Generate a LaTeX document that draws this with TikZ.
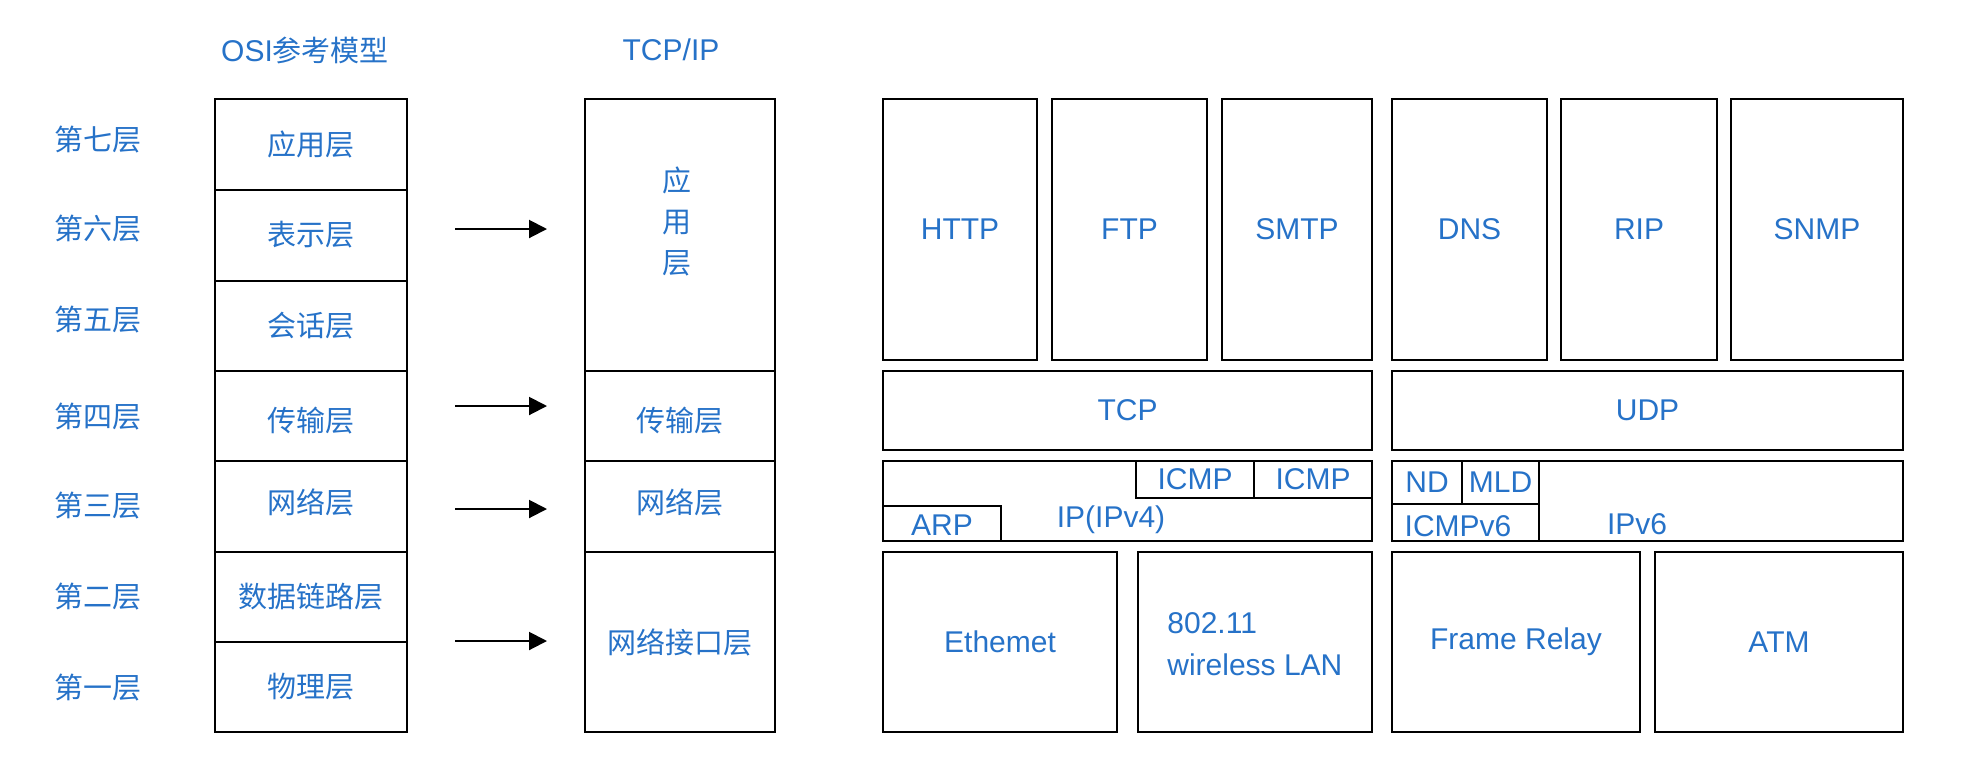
\documentclass[tikz,border=0pt]{standalone}
\usepackage{fontspec}
\setmainfont{Liberation Sans}
\newfontfamily\cjk{Noto Sans CJK SC}
\newfontfamily\latn{Liberation Sans}
\usetikzlibrary{arrows.meta}
\definecolor{lblue}{RGB}{38,114,200}
\tikzset{
  box/.style={draw=black,line width=1pt,inner sep=0pt,outer sep=0pt,text=lblue,font=\fontsize{15}{18}\selectfont},
  lbl/.style={inner sep=0pt,text=lblue,font=\fontsize{15}{18}\selectfont},
  zh/.style={inner sep=0pt,text=lblue,font=\cjk\fontsize{14.5}{18}\selectfont},
  arr/.style={line width=1pt,-{Triangle[length=9pt,width=9pt]}}
}
\newcommand\bx[6]{\node[box,minimum width={(#4-#2)*0.5pt},minimum height={(#5-#3)*0.5pt}] (#1) at ({(#2+#4)/2},{(#3+#5)/2}) {#6};}
\begin{document}
\begin{tikzpicture}[x=0.5pt,y=-0.5pt]
\useasboundingbox (0,0) rectangle (1980,762);
% titles
\node[zh] (t1) at (305,50) {{\latn\fontsize{15}{18}\selectfont OSI}参考模型};
\node[lbl] (t2) at (671,50) {TCP/IP};
% left labels
\node[zh] (l7) at (98,139.5) {第七层};
\node[zh] (l6) at (98,229) {第六层};
\node[zh] (l5) at (98,319.5) {第五层};
\node[zh] (l4) at (98,417) {第四层};
\node[zh] (l3) at (98,506) {第三层};
\node[zh] (l2) at (98,597) {第二层};
\node[zh] (l1) at (98,688) {第一层};
% OSI column
\begin{scope}[box/.append style={font=\cjk\fontsize{14.5}{18}\selectfont}]
\bx{o7}{215}{98.5}{407}{189.5}{应用层}
\bx{o6}{215}{189.5}{407}{280.5}{表示层}
\bx{o5}{215}{280.5}{407}{371}{会话层}
\bx{o4}{215}{371}{407}{461}{}
\bx{o3}{215}{461}{407}{552}{}
\bx{o2}{215}{552}{407}{641.5}{数据链路层}
\bx{o1}{215}{641.5}{407}{732}{物理层}
% TCP/IP column
\bx{ta}{585}{98.5}{775}{371}{}
\bx{tt}{585}{371}{775}{461}{}
\bx{tn}{585}{461}{775}{552}{}
\bx{ti}{585}{552}{775}{732}{网络接口层}
\end{scope}
\node[zh] (o4t) at (311,421) {传输层};
\node[zh] (o3t) at (311,502) {网络层};
\node[zh] (ttt) at (680,421) {传输层};
\node[zh] (tnt) at (680,502) {网络层};
\node[zh,align=center,font=\cjk\fontsize{14.5}{20.5}\selectfont] (tat) at (677,221) {应\\用\\层};
% arrows
\coordinate (a1s) at (455,229); \coordinate (a1e) at (547,229);
\coordinate (a2s) at (455,406); \coordinate (a2e) at (547,406);
\coordinate (a3s) at (455,509); \coordinate (a3e) at (547,509);
\coordinate (a4s) at (455,641); \coordinate (a4e) at (547,641);
\draw[arr] (a1s) -- (a1e);
\draw[arr] (a2s) -- (a2e);
\draw[arr] (a3s) -- (a3e);
\draw[arr] (a4s) -- (a4e);
% application protocols
\bx{http}{883}{98.5}{1037}{360}{HTTP}
\bx{ftp}{1052}{98.5}{1207}{360}{FTP}
\bx{smtp}{1222}{98.5}{1372}{360}{SMTP}
\bx{dns}{1392}{98.5}{1547}{360}{DNS}
\bx{rip}{1561}{98.5}{1717}{360}{RIP}
\bx{snmp}{1731}{98.5}{1903}{360}{SNMP}
% transport
\bx{tcp}{883}{371}{1372}{450}{TCP}
\bx{udp}{1392}{371}{1903}{450}{UDP}
% network
\bx{ipv4}{883}{461}{1372}{541}{}
\bx{icmpa}{1136}{461}{1254}{498}{ICMP}
\bx{icmpb}{1254}{461}{1372}{498}{ICMP}
\bx{arp}{883}{506}{1001}{541}{}
\node[lbl] (arpt) at (942,525) {ARP};
\node[lbl] (ipv4t) at (1111,520) {IP(IPv4)};
\bx{ipv6}{1392}{461}{1903}{541}{}
\bx{nd}{1392}{461}{1462}{504}{ND}
\bx{mld}{1462}{461}{1539}{504}{MLD}
\bx{icmp6}{1392}{504}{1539}{541}{}
\node[lbl] (icmp6t) at (1458,526) {ICMPv6};
\node[lbl] (ipv6t) at (1637,524) {IPv6};
% link
\bx{eth}{883}{552}{1117}{732}{Ethemet}
\bx{wlan}{1138}{552}{1372}{732}{}
\node[lbl,align=left,anchor=west,font=\fontsize{15}{21}\selectfont] (wlant) at (1167,644) {802.11\\wireless LAN};
\bx{fr}{1392}{552}{1640}{732}{Frame Relay}
\bx{atm}{1655}{552}{1903}{732}{ATM}
\end{tikzpicture}
\end{document}
